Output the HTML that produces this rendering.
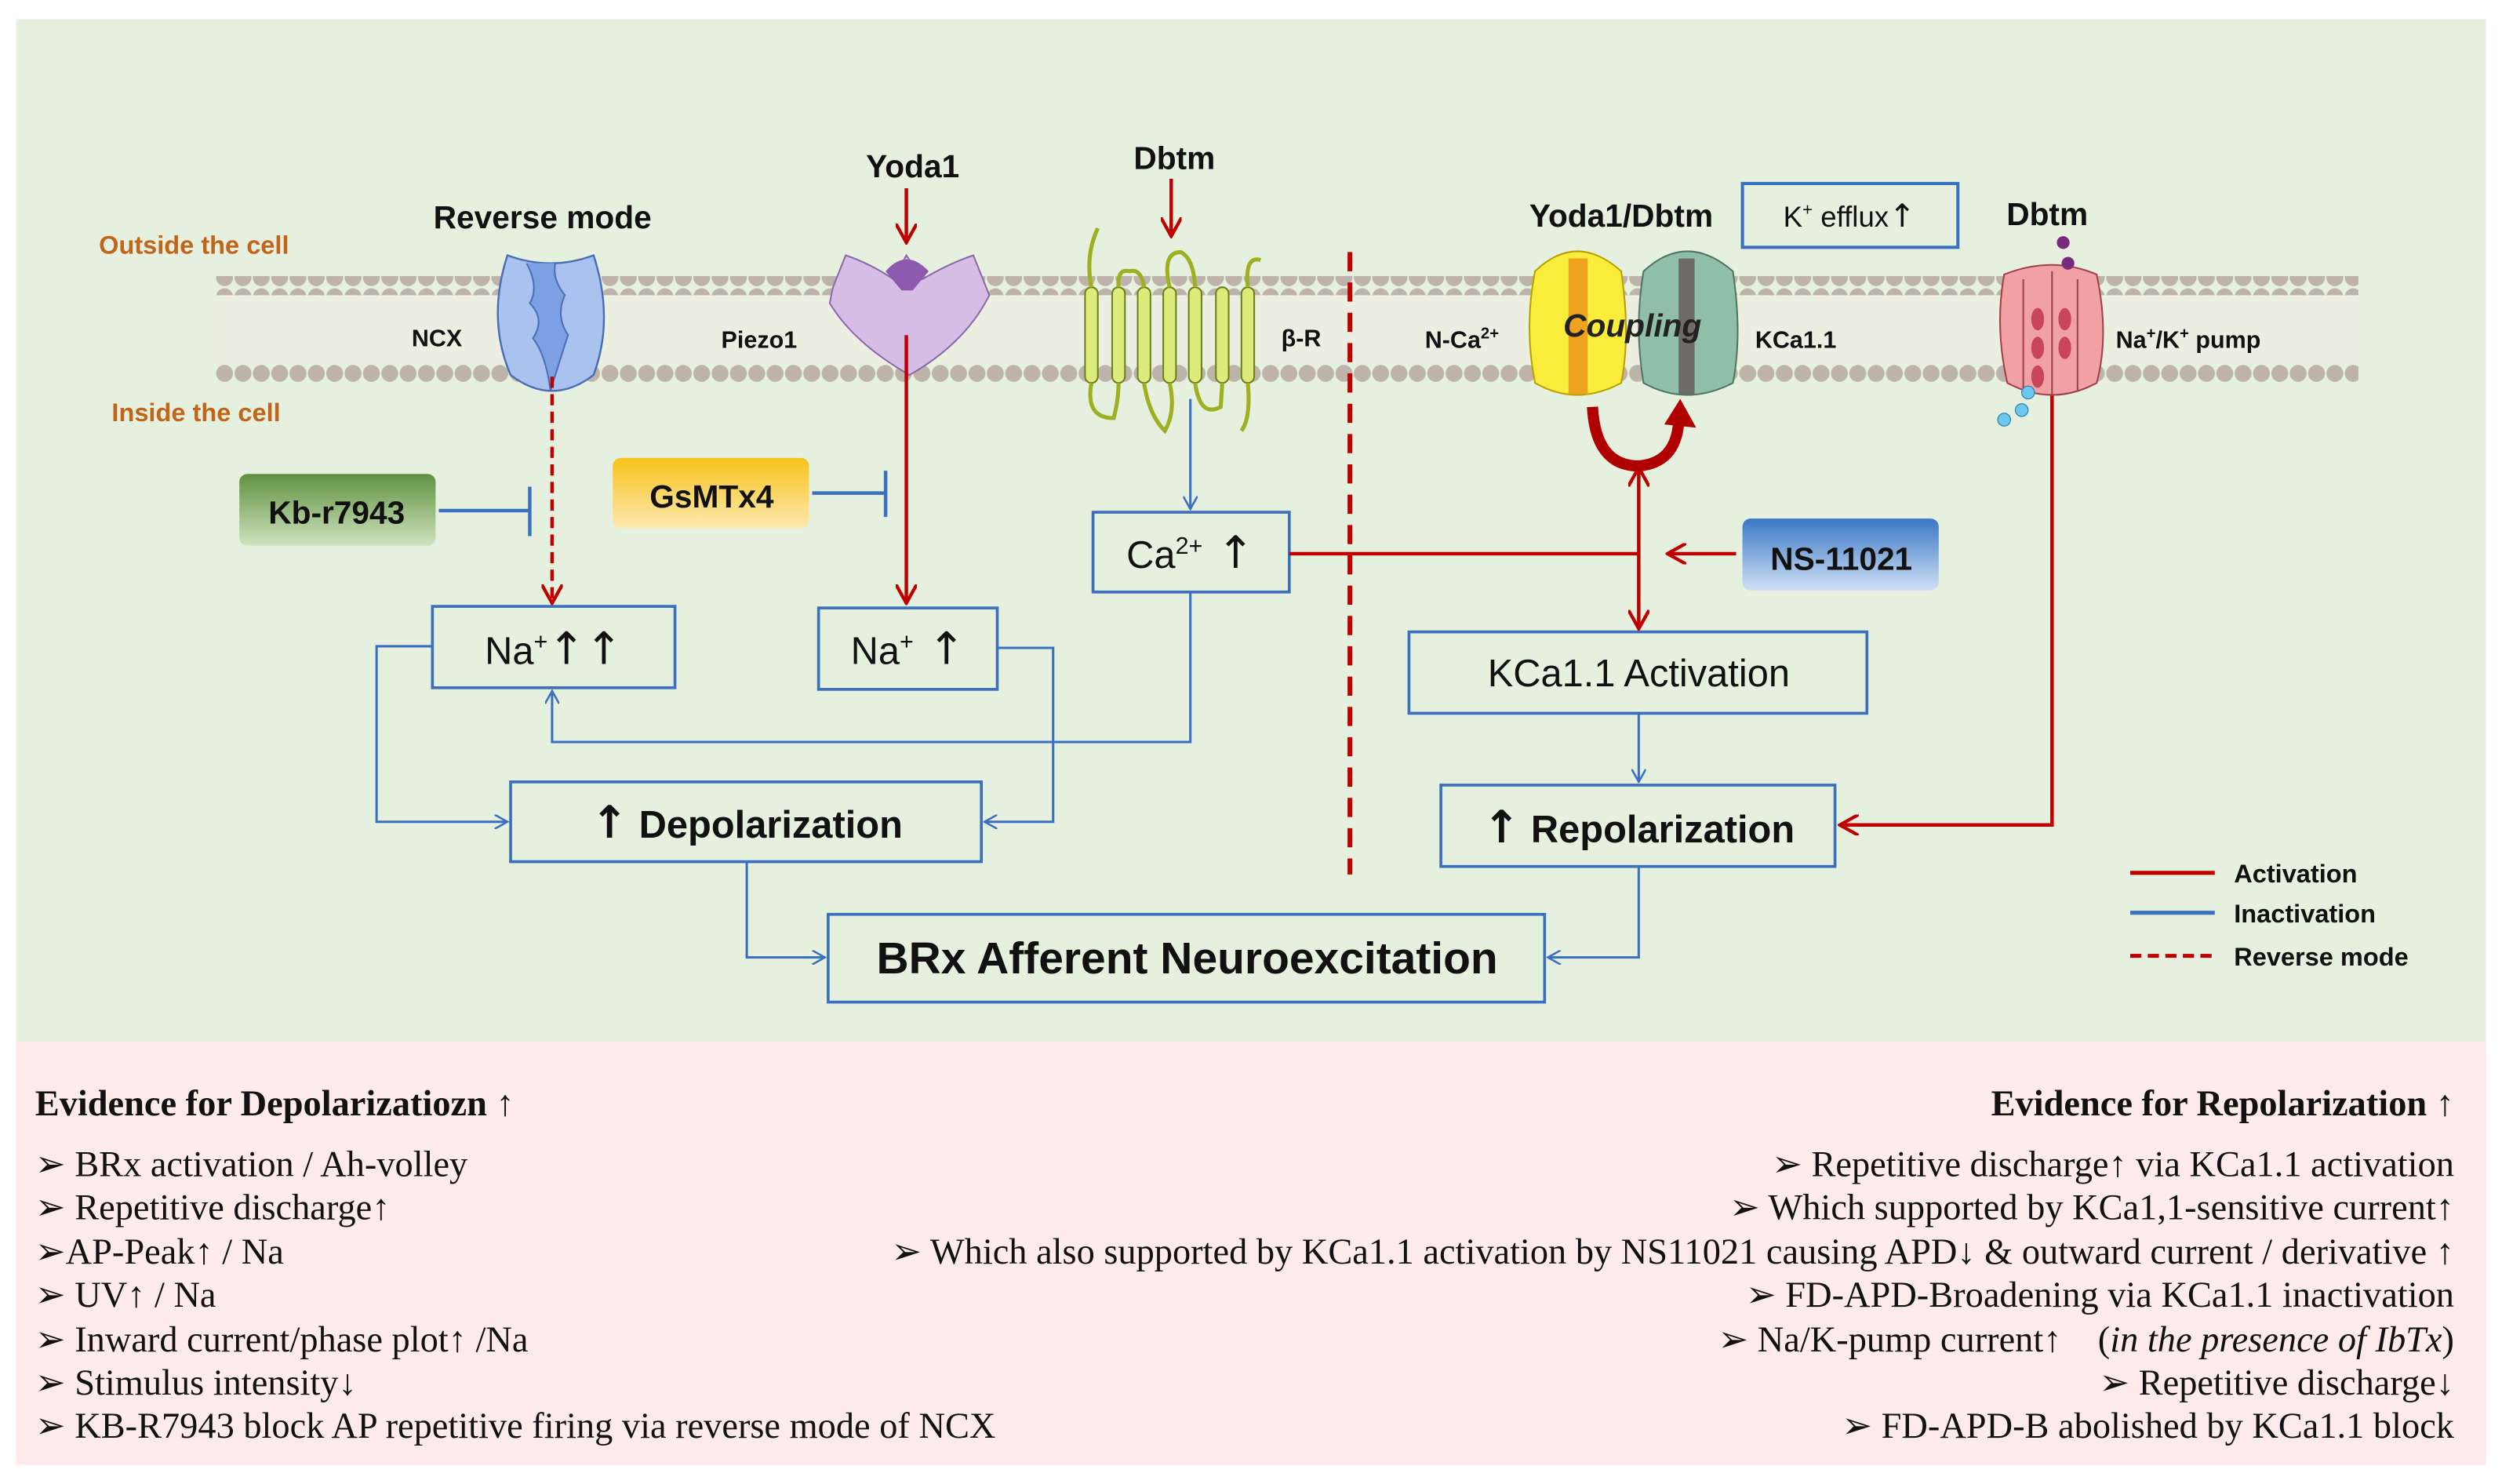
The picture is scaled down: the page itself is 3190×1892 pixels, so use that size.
<!DOCTYPE html>
<html><head><meta charset="utf-8"><style>
html,body{margin:0;padding:0;background:#fff}
svg{display:block}
.s{font-family:"Liberation Sans",sans-serif}
.r{font-family:"Liberation Serif",serif;font-size:22.8px;fill:#111}
.a{font-family:"DejaVu Sans",sans-serif}
</style></head><body>
<svg width="3190" height="1892" viewBox="0 0 1568 930" preserveAspectRatio="none" xmlns="http://www.w3.org/2000/svg">
<defs>
<marker id="ar" viewBox="0 0 10 10" refX="9" refY="5" markerWidth="6" markerHeight="6" orient="auto-start-reverse"><path d="M0,0 L9,5 L0,10" fill="none" stroke="#c00000" stroke-width="1.6"/></marker>
<marker id="ab" viewBox="0 0 10 10" refX="9" refY="5" markerWidth="6" markerHeight="6" orient="auto-start-reverse"><path d="M0,0 L9,5 L0,10" fill="none" stroke="#3b6fc0" stroke-width="1.4"/></marker>
<pattern id="bead" x="135" y="0" width="11.5" height="12" patternUnits="userSpaceOnUse"><circle cx="5.75" cy="6" r="5.3" fill="#bdb3aa"/></pattern>
<linearGradient id="gG" x1="0" y1="0" x2="0" y2="1"><stop offset="0" stop-color="#5f9140"/><stop offset="1" stop-color="#cfe3bf"/></linearGradient>
<linearGradient id="gY" x1="0" y1="0" x2="0" y2="1"><stop offset="0" stop-color="#f7c21a"/><stop offset="1" stop-color="#fde9b0"/></linearGradient>
<linearGradient id="gB" x1="0" y1="0" x2="0" y2="1"><stop offset="0" stop-color="#3b78c6"/><stop offset="1" stop-color="#cfe0f5"/></linearGradient>
</defs>
<rect x="10" y="12" width="1548" height="641" fill="#e6f0de"/>
<rect x="10" y="653" width="1548" height="265" fill="#fdeaea"/>
<!-- membrane -->
<rect x="135" y="185" width="1343" height="43" fill="#f1ebe6" opacity="0.5"/>
<rect x="135" y="173" width="1343" height="12" fill="url(#bead)"/>
<rect x="135" y="228" width="1343" height="12" fill="url(#bead)"/>
<g class="s" font-weight="bold" fill="#111">
<text x="62" y="159" fill="#c0651a" font-size="16">Outside the cell</text>
<text x="70" y="264" fill="#c0651a" font-size="16">Inside the cell</text>
<text x="340" y="143" font-size="20" text-anchor="middle">Reverse mode</text>
<text x="572" y="111" font-size="20" text-anchor="middle">Yoda1</text>
<text x="736" y="106" font-size="20" text-anchor="middle">Dbtm</text>
<text x="1016" y="142" font-size="20" text-anchor="middle">Yoda1/Dbtm</text>
<text x="1283" y="141" font-size="20" text-anchor="middle">Dbtm</text>
<text x="258" y="217" font-size="15">NCX</text>
<text x="452" y="218" font-size="15">Piezo1</text>
<text x="803" y="217" font-size="15">β-R</text>
<text x="893" y="218" font-size="15">N-Ca<tspan dy="-6" font-size="10">2+</tspan></text>
<text x="1100" y="218" font-size="15">KCa1.1</text>
<text x="1326" y="218" font-size="15">Na<tspan dy="-6" font-size="10">+</tspan><tspan dy="6">/K</tspan><tspan dy="-6" font-size="10">+</tspan><tspan dy="6"> pump</tspan></text>
</g>
<!-- NCX -->
<path d="M318,160 Q345,170 372,160 Q385,200 372,235 Q346,255 320,235 Q305,200 318,160Z" fill="#a9c2f0" stroke="#4b6fb5" stroke-width="1.2"/>
<path d="M330,165 Q338,180 332,190 Q342,200 334,212 Q342,222 345,245 Q352,222 356,210 Q348,198 354,185 Q346,175 348,165" fill="#7d9fe3" stroke="#4b6fb5"/>
<!-- Piezo -->
<path d="M522,180 L530,160 Q545,165 560,175 L568,160 L578,175 Q595,165 610,160 L620,185 Q605,215 570,235 Q535,215 520,190Z" fill="#d5bde6" stroke="#8a6aa8"/>
<path d="M555,170 Q568,155 582,170 L572,182 L565,182Z" fill="#8d5ab0"/>
<!-- beta-R -->
<g fill="#dceb7a" stroke="#6d7f1a" stroke-width="1">
<rect x="680" y="180" width="8" height="60" rx="4"/><rect x="697" y="180" width="8" height="60" rx="4"/><rect x="713" y="180" width="8" height="60" rx="4"/><rect x="729" y="180" width="8" height="60" rx="4"/><rect x="745" y="180" width="8" height="60" rx="4"/><rect x="762" y="180" width="8" height="60" rx="4"/><rect x="778" y="180" width="8" height="60" rx="4"/>
</g>
<path d="M684,180 Q680,160 688,143 M701,180 Q700,168 708,170 Q715,168 717,180 M733,180 Q728,158 740,158 Q748,162 749,180 M782,180 Q780,160 790,163 M684,240 Q680,262 698,262 Q701,250 701,240 M717,240 Q720,260 730,270 Q737,258 733,240 M749,240 Q752,262 765,255 L766,240 M782,240 Q784,262 778,270" fill="none" stroke="#9cb020" stroke-width="2.5"/>
<!-- Ncav / KCa -->
<path d="M962,170 Q988,145 1016,170 Q1022,210 1016,240 Q988,255 962,240 Q955,205 962,170Z" fill="#f9ec3a" stroke="#b8a000"/>
<rect x="983" y="162" width="12" height="85" fill="#efa320"/>
<path d="M1030,170 Q1057,145 1086,170 Q1092,210 1086,240 Q1057,255 1030,240 Q1024,205 1030,170Z" fill="#8fbfa8" stroke="#4e7565"/>
<rect x="1052" y="162" width="10" height="85" fill="#6e6a68"/>
<text x="1023" y="211" class="s" font-size="20" font-weight="bold" font-style="italic" text-anchor="middle" fill="#222">Coupling</text>
<!-- pump -->
<path d="M1256,172 Q1286,160 1314,172 Q1322,210 1314,240 Q1286,255 1258,240 Q1250,205 1256,172Z" fill="#f1a0a4" stroke="#a04048"/>
<path d="M1268,175 L1268,245 M1286,170 L1286,248 M1302,175 L1302,245" stroke="#a04048"/>
<g fill="#c9455a"><ellipse cx="1277" cy="200" rx="4" ry="7"/><ellipse cx="1277" cy="218" rx="4" ry="7"/><ellipse cx="1277" cy="236" rx="4" ry="7"/><ellipse cx="1294" cy="200" rx="4" ry="7"/><ellipse cx="1294" cy="218" rx="4" ry="7"/></g>
<circle cx="1293" cy="152" r="4" fill="#7a2a7e"/><circle cx="1296" cy="165" r="4" fill="#7a2a7e"/>
<g fill="#6ec8ee" stroke="#2a80b0" stroke-width="0.6"><circle cx="1271" cy="246" r="4"/><circle cx="1267" cy="257" r="4"/><circle cx="1256" cy="263" r="4"/></g>
<!-- K efflux box -->
<rect x="1092" y="115" width="135" height="40" fill="none" stroke="#3b6fc0" stroke-width="2"/>
<text x="1159" y="142" class="s" font-size="18" text-anchor="middle" fill="#111">K<tspan dy="-7" font-size="11">+</tspan><tspan dy="7"> efflux</tspan><tspan class="a" font-size="20">↑</tspan></text>
<!-- dashed divider -->
<line x1="846" y1="158" x2="846" y2="548" stroke="#c00000" stroke-width="3" stroke-dasharray="12,7"/>
<!-- red arrows top -->
<line x1="568" y1="118" x2="568" y2="152" stroke="#c00000" stroke-width="2.2" marker-end="url(#ar)"/>
<line x1="734" y1="112" x2="734" y2="148" stroke="#c00000" stroke-width="2.2" marker-end="url(#ar)"/>
<line x1="346" y1="236" x2="346" y2="378" stroke="#c00000" stroke-width="2.2" stroke-dasharray="7,4" marker-end="url(#ar)"/>
<line x1="568" y1="210" x2="568" y2="378" stroke="#c00000" stroke-width="2.2" marker-end="url(#ar)"/>
<!-- inhibitors -->
<rect x="150" y="297" width="123" height="45" rx="5" fill="url(#gG)"/>
<text x="211" y="328" class="s" font-size="20" font-weight="bold" text-anchor="middle" fill="#111">Kb-r7943</text>
<line x1="275" y1="320" x2="332" y2="320" stroke="#3b6fc0" stroke-width="2.2"/><line x1="332" y1="305" x2="332" y2="336" stroke="#3b6fc0" stroke-width="2.2"/>
<rect x="384" y="287" width="123" height="44" rx="5" fill="url(#gY)"/>
<text x="446" y="318" class="s" font-size="20" font-weight="bold" text-anchor="middle" fill="#111">GsMTx4</text>
<line x1="509" y1="309" x2="555" y2="309" stroke="#3b6fc0" stroke-width="2.2"/><line x1="555" y1="295" x2="555" y2="324" stroke="#3b6fc0" stroke-width="2.2"/>
<rect x="1092" y="325" width="123" height="45" rx="5" fill="url(#gB)"/>
<text x="1154" y="357" class="s" font-size="20" font-weight="bold" text-anchor="middle" fill="#111">NS-11021</text>
<!-- boxes -->
<g fill="none" stroke="#3b6fc0" stroke-width="1.8">
<rect x="685" y="321" width="123" height="50"/>
<rect x="271" y="380" width="152" height="51"/>
<rect x="513" y="381" width="112" height="51"/>
<rect x="320" y="490" width="295" height="50"/>
<rect x="883" y="396" width="287" height="51"/>
<rect x="903" y="492" width="247" height="51"/>
<rect x="519" y="573" width="449" height="55"/>
</g>
<g class="s" fill="#111" text-anchor="middle">
<text x="746" y="356" font-size="24">Ca<tspan dy="-9" font-size="15">2+</tspan><tspan dy="9" class="a" font-size="28"> ↑</tspan></text>
<text x="347" y="416" font-size="24">Na<tspan dy="-9" font-size="15">+</tspan><tspan dy="9" class="a" font-size="28">↑↑</tspan></text>
<text x="569" y="416" font-size="24">Na<tspan dy="-9" font-size="15">+</tspan><tspan dy="9" class="a" font-size="28"> ↑</tspan></text>
<text x="468" y="525" font-size="24" font-weight="bold"><tspan class="a" font-size="28">↑</tspan> Depolarization</text>
<text x="1027" y="430" font-size="24">KCa1.1 Activation</text>
<text x="1027" y="528" font-size="24" font-weight="bold"><tspan class="a" font-size="28">↑</tspan> Repolarization</text>
<text x="744" y="610" font-size="28" font-weight="bold">BRx Afferent Neuroexcitation</text>
</g>
<!-- blue connectors -->
<g fill="none" stroke="#3b6fc0" stroke-width="1.5">
<polyline points="746,250 746,319" marker-end="url(#ab)"/>
<polyline points="746,371 746,465 346,465 346,433" marker-end="url(#ab)"/>
<polyline points="271,405 236,405 236,515 318,515" marker-end="url(#ab)"/>
<polyline points="625,406 660,406 660,515 617,515" marker-end="url(#ab)"/>
<polyline points="1027,447 1027,490" marker-end="url(#ab)"/>
<polyline points="468,540 468,600 517,600" marker-end="url(#ab)"/>
<polyline points="1027,543 1027,600 970,600" marker-end="url(#ab)"/>
</g>
<!-- red connectors right -->
<g fill="none" stroke="#c00000" stroke-width="2.2">
<line x1="808" y1="347" x2="1027" y2="347"/>
<line x1="1027" y1="293" x2="1027" y2="394" marker-start="url(#ar)" marker-end="url(#ar)"/>
<line x1="1088" y1="347" x2="1045" y2="347" marker-end="url(#ar)"/>
<polyline points="1286,248 1286,517 1153,517" marker-end="url(#ar)"/>
</g>
<path d="M998,255 Q1000,292 1027,292 Q1050,290 1052,265" fill="none" stroke="#b00000" stroke-width="7"/>
<path d="M1043,266 L1053,250 L1063,268Z" fill="#b00000"/>
<!-- legend -->
<line x1="1335" y1="547" x2="1388" y2="547" stroke="#c00000" stroke-width="2.5"/>
<line x1="1335" y1="572" x2="1388" y2="572" stroke="#3b6fc0" stroke-width="2.5"/>
<line x1="1335" y1="599" x2="1388" y2="599" stroke="#c00000" stroke-width="2.5" stroke-dasharray="7,4"/>
<g class="s" font-size="16" font-weight="bold" fill="#111">
<text x="1400" y="553">Activation</text><text x="1400" y="578">Inactivation</text><text x="1400" y="605">Reverse mode</text>
</g>
<!-- evidence -->
<text x="22" y="699" class="r" font-weight="bold" font-size="21">Evidence for Depolarizatiozn ↑</text>
<text x="22" y="737" class="r">➢ BRx activation / Ah-volley</text>
<text x="22" y="764" class="r">➢ Repetitive discharge↑</text>
<text x="22" y="792" class="r">➢AP-Peak↑ / Na</text>
<text x="22" y="819" class="r">➢ UV↑ / Na</text>
<text x="22" y="847" class="r">➢ Inward current/phase plot↑ /Na</text>
<text x="22" y="874" class="r">➢ Stimulus intensity↓</text>
<text x="22" y="901" class="r">➢ KB-R7943 block AP repetitive firing via reverse mode of NCX</text>
<g text-anchor="end">
<text x="1538" y="699" class="r" font-weight="bold" font-size="21">Evidence for Repolarization ↑</text>
<text x="1538" y="737" class="r">➢ Repetitive discharge↑ via KCa1.1 activation</text>
<text x="1538" y="764" class="r">➢ Which supported by KCa1,1-sensitive current↑</text>
<text x="1538" y="792" class="r">➢ Which also supported by KCa1.1 activation by NS11021 causing APD↓ &amp; outward current / derivative ↑</text>
<text x="1538" y="819" class="r">➢ FD-APD-Broadening via KCa1.1 inactivation</text>
<text x="1538" y="847" class="r">➢ Na/K-pump current↑　(<tspan font-style="italic">in the presence of IbTx</tspan>)</text>
<text x="1538" y="874" class="r">➢ Repetitive discharge↓</text>
<text x="1538" y="901" class="r">➢ FD-APD-B abolished by KCa1.1 block</text>
</g>
</svg>
</body></html>
